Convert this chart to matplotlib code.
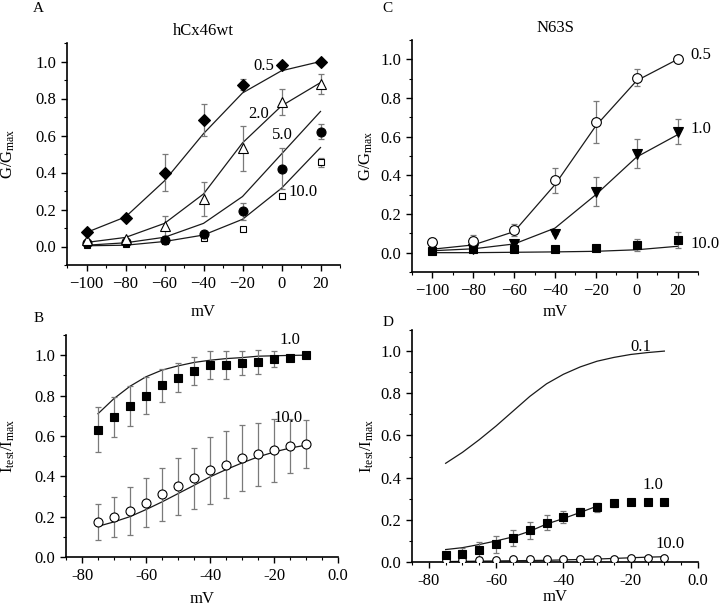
import numpy as np
import matplotlib
matplotlib.use("Agg")
import matplotlib.pyplot as plt
from matplotlib.ticker import MultipleLocator

plt.rcParams['font.family'] = ['Liberation Serif', 'DejaVu Serif']
plt.rcParams['mathtext.fontset'] = 'custom'
plt.rcParams['mathtext.rm'] = 'Liberation Serif'
plt.rcParams['mathtext.it'] = 'Liberation Serif:italic'

# ---------------- Panel A: hCx46wt ----------------
a_x = [-100, -80, -60, -40, -20, 0, 20]
a_05 = [0.076, 0.152, 0.40, 0.685, 0.874, 0.98, 1.0]
a_05_err = [0.0, 0.0, 0.10, 0.085, 0.03, 0.0, 0.0]
a_05_fit = [0.076, 0.16, 0.355, 0.61, 0.83, 0.95, 1.0]
a_20 = [0.034, 0.043, 0.11, 0.257, 0.53, 0.78, 0.88]
a_20_err = [0.0, 0.0, 0.055, 0.09, 0.12, 0.07, 0.055]
a_20_fit = [0.022, 0.049, 0.125, 0.284, 0.56, 0.76, 0.886]
a_50 = [0.02, 0.025, 0.034, 0.07, 0.19, 0.42, 0.62]
a_50_err = [0.0, 0.0, 0.0, 0.0, 0.045, 0.11, 0.04]
a_50_fit = [0.007, 0.02, 0.05, 0.125, 0.27, 0.50, 0.73]
a_100 = [0.01, 0.015, 0.03, 0.045, 0.092, 0.275, 0.456]
a_100_err = [0.0, 0.0, 0.0, 0.0, 0.0, 0.0, 0.025]
a_100_fit = [0.004, 0.007, 0.027, 0.062, 0.147, 0.315, 0.535]

# ---------------- Panel C: N63S ----------------
c_x = [-100, -80, -60, -40, -20, 0, 20]
c_05 = [0.054, 0.062, 0.118, 0.375, 0.675, 0.905, 1.0]
c_05_err = [0.02, 0.03, 0.03, 0.065, 0.11, 0.045, 0.0]
c_05_fit = [0.018, 0.04, 0.109, 0.352, 0.656, 0.89, 1.0]
c_10 = [0.03, 0.02, 0.045, 0.095, 0.314, 0.512, 0.625]
c_10_err = [0.0, 0.0, 0.015, 0.0, 0.075, 0.075, 0.065]
c_10_fit = [0.01, 0.02, 0.045, 0.127, 0.30, 0.495, 0.61]
c_100 = [0.009, 0.017, 0.02, 0.017, 0.025, 0.04, 0.066]
c_100_err = [0.0, 0.0, 0.0, 0.0, 0.0, 0.03, 0.04]
c_100_fit = [0.0, 0.0, 0.002, 0.004, 0.007, 0.015, 0.033]

# ---------------- Panel B ----------------
b_x = [-75, -70, -65, -60, -55, -50, -45, -40, -35, -30, -25, -20, -15, -10]
b_10 = [0.631, 0.694, 0.749, 0.80, 0.85, 0.889, 0.92, 0.95, 0.95, 0.96, 0.967, 0.98, 0.988, 1.0]
b_10_err = [0.11, 0.10, 0.10, 0.09, 0.08, 0.07, 0.07, 0.07, 0.07, 0.06, 0.058, 0.04, 0.01, 0.0]
b_10_fit = [0.71, 0.785, 0.846, 0.893, 0.926, 0.947, 0.964, 0.975, 0.983, 0.988, 0.995, 0.997, 0.999, 1.0]
b_100 = [0.174, 0.198, 0.228, 0.27, 0.31, 0.35, 0.39, 0.43, 0.458, 0.49, 0.509, 0.529, 0.55, 0.559]
b_100_err = [0.09, 0.10, 0.12, 0.12, 0.13, 0.14, 0.15, 0.165, 0.165, 0.163, 0.157, 0.157, 0.136, 0.12]
b_100_fit = [0.152, 0.174, 0.20, 0.235, 0.273, 0.314, 0.355, 0.397, 0.433, 0.466, 0.496, 0.52, 0.54, 0.554]

# ---------------- Panel D ----------------
d_x = [-75, -70, -65, -60, -55, -50, -45, -40, -35, -30, -25, -20, -15, -10]
d_01_fit = [0.468, 0.52, 0.58, 0.645, 0.715, 0.785, 0.845, 0.89, 0.925, 0.952, 0.97, 0.984, 0.993, 1.0]
d_10 = [0.032, 0.04, 0.059, 0.083, 0.114, 0.151, 0.187, 0.214, 0.238, 0.259, 0.278, 0.286, 0.286, 0.283]
d_10_err = [0.01, 0.028, 0.035, 0.04, 0.04, 0.04, 0.035, 0.03, 0.02, 0.02, 0.015, 0.005, 0.0, 0.0]
d_10_fit_x = [-75, -70, -65, -60, -55, -50, -45, -40, -35, -30]
d_10_fit = [0.059, 0.068, 0.083, 0.10, 0.119, 0.146, 0.18, 0.206, 0.235, 0.265]
d_100 = [0.01, 0.01, 0.011, 0.011, 0.012, 0.012, 0.013, 0.013, 0.014, 0.015, 0.016, 0.017, 0.019, 0.02]
d_100_err = [0.01] * 14
d_100_fit = [0.002, 0.003, 0.004, 0.005, 0.006, 0.007, 0.008, 0.01, 0.012, 0.014, 0.017, 0.02, 0.023, 0.025]

fig = plt.figure(figsize=(7.2, 6.06), dpi=100)
W, H = 720.0, 606.0


def make_ax(l, r, t, b):
    return fig.add_axes([l / W, 1 - b / H, (r - l) / W, (b - t) / H])


axA = make_ax(67, 340, 43, 265)
axC = make_ax(412, 698, 40, 272)
axB = make_ax(66, 338, 335, 557)
axD = make_ax(412, 698, 330, 562)

FS = 12
ECOL = '#7a7a7a'
LCOL = '#1a1a1a'


def style(ax):
    for s in ['top', 'right']:
        ax.spines[s].set_visible(False)
    for s in ['left', 'bottom']:
        ax.spines[s].set_linewidth(1.2)
    ax.tick_params(which='major', direction='out', length=4, width=1, labelsize=FS, pad=4)
    ax.tick_params(which='minor', direction='out', length=2.5, width=0.8)
    ax.yaxis.set_major_locator(MultipleLocator(0.2))
    ax.yaxis.set_minor_locator(MultipleLocator(0.1))
    ax.yaxis.set_major_formatter(matplotlib.ticker.FormatStrFormatter('%.1f'))


def labels(ax, ylab, xpos, ypos):
    ax.set_xlabel('mV', fontsize=FS)
    ax.xaxis.set_label_coords(0.5, ypos)
    ax.xaxis.label.set_va('center')
    ax.set_ylabel(ylab, fontsize=FS)
    ax.yaxis.set_label_coords(xpos, 0.5)
    ax.yaxis.label.set_va('center')


def series(ax, x, y, err, fit, marker, face, ms, fit_x=None, ecol=ECOL):
    fx = x if fit_x is None else fit_x
    if fit is not None:
        ax.plot(fx, fit, color=LCOL, lw=0.9, zorder=2)
    if err is not None:
        ax.errorbar(x, y, yerr=err, fmt='none', ecolor=ecol, elinewidth=0.9,
                    capsize=2, capthick=0.9, zorder=3)
    if y is not None:
        ax.plot(x, y, linestyle='none', marker=marker, markersize=ms,
                markerfacecolor=face, markeredgecolor='black', markeredgewidth=0.8, zorder=4)


zero_fmt = matplotlib.ticker.FuncFormatter(lambda v, p: '0.0' if abs(v) < 1e-9 else '%d' % v)

# Panel A
style(axA)
axA.set_xlim(-110, 30)
axA.set_ylim(-0.1, 1.1)
axA.xaxis.set_major_locator(MultipleLocator(20))
axA.xaxis.set_minor_locator(MultipleLocator(10))
series(axA, a_x, a_100, a_100_err, a_100_fit, 's', 'white', 4.5)
series(axA, a_x, a_50, a_50_err, a_50_fit, 'o', 'black', 6.5)
series(axA, a_x, a_20, a_20_err, a_20_fit, '^', 'white', 7.5)
series(axA, a_x, a_05, a_05_err, a_05_fit, 'D', 'black', 6.5)
axA.text(-9.2, 0.973, '0.5', fontsize=FS, ha='center', va='center')
axA.text(-11.8, 0.717, '2.0', fontsize=FS, ha='center', va='center')
axA.text(0.5, 0.603, '5.0', fontsize=FS, ha='center', va='center')
axA.text(11.3, 0.293, '10.0', fontsize=FS, ha='center', va='center')
axA.set_title('hCx46wt', fontsize=FS, pad=6)
labels(axA, 'G/G$_{\\rm max}$', -0.214, -0.212)

# Panel C
style(axC)
axC.set_xlim(-110, 30)
axC.set_ylim(-0.1, 1.1)
axC.xaxis.set_major_locator(MultipleLocator(20))
axC.xaxis.set_minor_locator(MultipleLocator(10))
series(axC, c_x, c_100, c_100_err, c_100_fit, 's', 'black', 6)
series(axC, c_x, c_10, c_10_err, c_10_fit, 'v', 'black', 7.5)
series(axC, c_x, c_05, c_05_err, c_05_fit, 'o', 'white', 7)
axC.text(26.5, 1.02, '0.5', fontsize=FS, ha='left', va='center', clip_on=False)
axC.text(26.5, 0.64, '1.0', fontsize=FS, ha='left', va='center', clip_on=False)
axC.text(26.5, 0.045, '10.0', fontsize=FS, ha='left', va='center', clip_on=False)
axC.set_title('N63S', fontsize=FS, pad=6)
labels(axC, 'G/G$_{\\rm max}$', -0.16, -0.172)

# Panel B
style(axB)
axB.set_xlim(-85, 0)
axB.set_ylim(0, 1.1)
axB.xaxis.set_major_locator(MultipleLocator(20))
axB.xaxis.set_minor_locator(MultipleLocator(5))
axB.xaxis.set_major_formatter(zero_fmt)
series(axB, b_x, b_100, b_100_err, b_100_fit, 'o', 'white', 6.5)
series(axB, b_x, b_10, b_10_err, b_10_fit, 's', 'black', 5.5)
axB.text(-15, 1.075, '1.0', fontsize=FS, ha='center', va='center')
axB.text(-15.6, 0.69, '10.0', fontsize=FS, ha='center', va='center')
labels(axB, 'I$_{\\rm test}$/I$_{\\rm max}$', -0.212, -0.19)

# Panel D
style(axD)
axD.set_xlim(-85, 0)
axD.set_ylim(0, 1.1)
axD.xaxis.set_major_locator(MultipleLocator(20))
axD.xaxis.set_minor_locator(MultipleLocator(5))
axD.xaxis.set_major_formatter(zero_fmt)
axD.plot(d_x, d_01_fit, color=LCOL, lw=0.9)
series(axD, d_x, d_100, d_100_err, d_100_fit, 'o', 'white', 5.5, ecol='#555555')
series(axD, d_x, d_10, d_10_err, d_10_fit, 's', 'black', 6, fit_x=d_10_fit_x)
axD.text(-17, 1.02, '0.1', fontsize=FS, ha='center', va='center')
axD.text(-13.3, 0.367, '1.0', fontsize=FS, ha='center', va='center')
axD.text(-8.2, 0.086, '10.0', fontsize=FS, ha='center', va='center')
labels(axD, 'I$_{\\rm test}$/I$_{\\rm max}$', -0.155, -0.152)

# Panel letters
fig.text(38 / W, 1 - 8 / H, 'A', fontsize=11, ha='center', va='center')
fig.text(387 / W, 1 - 8 / H, 'C', fontsize=11, ha='center', va='center')
fig.text(39 / W, 1 - 318 / H, 'B', fontsize=11, ha='center', va='center')
fig.text(388 / W, 1 - 323 / H, 'D', fontsize=11, ha='center', va='center')

fig.savefig('out.png', dpi=100)
